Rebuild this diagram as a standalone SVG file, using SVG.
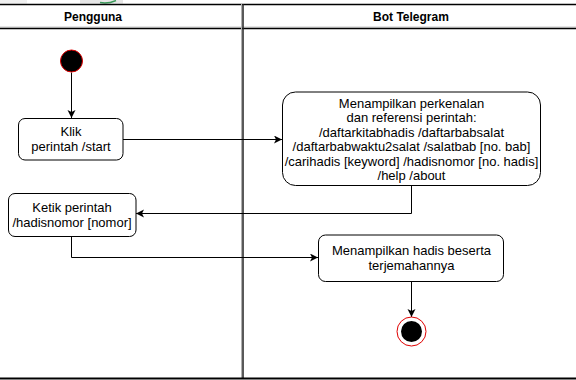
<svg xmlns="http://www.w3.org/2000/svg" width="576" height="380" viewBox="0 0 576 380">
  <style>
    .lbl { font-family: "Liberation Sans", Arial, sans-serif; font-size: 13px; fill: #000; text-anchor: middle; }
    .hdr { font-family: "Liberation Sans", Arial, sans-serif; font-size: 12px; font-weight: bold; fill: #000; text-anchor: middle; }
    .box { fill: #fff; stroke: #000; stroke-width: 1; }
    .edge { fill: none; stroke: #000; stroke-width: 1; marker-end: url(#arr); }
    .lane { stroke: #000; stroke-width: 1.5; fill: none; }
  </style>
  <defs>
    <marker id="arr" markerUnits="userSpaceOnUse" markerWidth="10" markerHeight="10" refX="8" refY="4" orient="auto">
      <path d="M0,0 L8,4 L0,8 L2,4 Z" fill="#000"/>
    </marker>
  </defs>
  <rect width="576" height="380" fill="#fff"/>
  <g id="crop-strip">
    <rect x="0" y="0" width="27" height="3.5" fill="#f0f0f0"/>
    <rect x="80" y="0" width="43" height="3.5" fill="#e6e6e6"/>
    <path d="M100,2.5 Q108,4 116,0.5" stroke="#3a9a5a" stroke-width="1.5" fill="none"/>
  </g>
  <g id="swimlanes">
    <line class="lane" x1="0" y1="4.5" x2="576" y2="4.5"/>
    <line x1="0" y1="27" x2="576" y2="27" stroke="#c8c8c8" stroke-width="1"/>
    <line class="lane" x1="0" y1="28.5" x2="576" y2="28.5"/>
    <line x1="241.5" y1="4" x2="241.5" y2="379" stroke="#b0b0b0" stroke-width="1"/>
    <line x1="243" y1="4" x2="243" y2="379" stroke="#222" stroke-width="1.5"/>
    <line x1="0" y1="378.5" x2="576" y2="378.5" stroke="#000" stroke-width="2"/>
    <text class="hdr" x="93" y="21">Pengguna</text>
    <text class="hdr" x="411" y="21">Bot Telegram</text>
  </g>
  <g id="connectors">
    <line class="edge" x1="71.5" y1="72.5" x2="71.5" y2="118"/>
    <line class="edge" x1="123" y1="139.5" x2="282" y2="139.5"/>
    <polyline class="edge" points="411.5,186 411.5,213.5 136,213.5"/>
    <polyline class="edge" points="71.5,237 71.5,257.5 318,257.5"/>
    <line class="edge" x1="411.5" y1="282" x2="411.5" y2="317"/>
  </g>
  <g id="start">
    <circle cx="71.5" cy="61" r="11" fill="#000" stroke="#e00000" stroke-width="1"/>
  </g>
  <g id="klik">
    <rect class="box" x="18.5" y="118.5" width="104.5" height="41.5" rx="6.5"/>
    <text class="lbl" x="71" y="136">Klik</text>
    <text class="lbl" x="71" y="151">perintah /start</text>
  </g>
  <g id="perkenalan">
    <rect class="box" x="282.5" y="92" width="258" height="93.5" rx="13"/>
    <text class="lbl" x="411.5" y="107.5">Menampilkan perkenalan</text>
    <text class="lbl" x="411.5" y="122">dan referensi perintah:</text>
    <text class="lbl" x="411.5" y="136.5">/daftarkitabhadis /daftarbabsalat</text>
    <text class="lbl" x="411.5" y="151">/daftarbabwaktu2salat /salatbab [no. bab]</text>
    <text class="lbl" x="411.5" y="165.5">/carihadis [keyword] /hadisnomor [no. hadis]</text>
    <text class="lbl" x="411.5" y="180">/help /about</text>
  </g>
  <g id="ketik">
    <rect class="box" x="8.5" y="193.5" width="127.5" height="43" rx="6.5"/>
    <text class="lbl" x="72" y="212">Ketik perintah</text>
    <text class="lbl" x="72" y="226.5">/hadisnomor [nomor]</text>
  </g>
  <g id="hadis">
    <rect class="box" x="318.5" y="235" width="185" height="46.5" rx="7"/>
    <text class="lbl" x="411.5" y="255">Menampilkan hadis beserta</text>
    <text class="lbl" x="411.5" y="270">terjemahannya</text>
  </g>
  <g id="end">
    <circle cx="411.5" cy="331.5" r="14.5" fill="#fff" stroke="#e00000" stroke-width="1"/>
    <circle cx="411.5" cy="331.5" r="10.5" fill="#000"/>
  </g>
</svg>
